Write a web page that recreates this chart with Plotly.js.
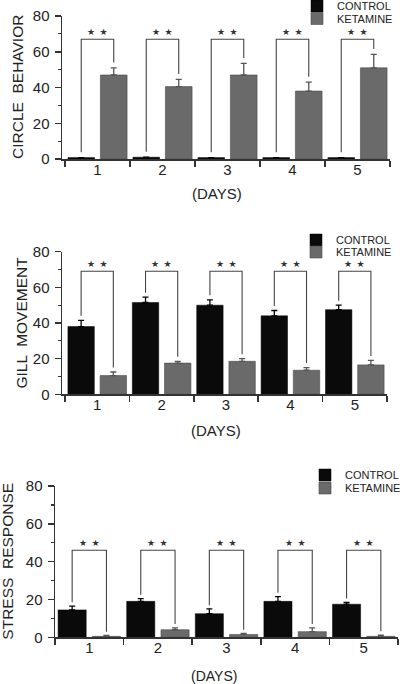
<!DOCTYPE html>
<html>
<head>
<meta charset="utf-8">
<script src="https://cdn.plot.ly/plotly-3.0.1.min.js"></script>
<style>
html,body{margin:0;padding:0;background:#fff;}
#chart{width:400px;height:684px;}
</style>
</head>
<body>
<div id="chart"></div>
<script>
// ---------- data ----------
const days = [1, 2, 3, 4, 5];
const dayLabels = ["1", "2", "3", "4", "5"];

const circleControl = [0.8, 1.0, 0.8, 0.8, 0.8];
const circleControlErr = [0, 0, 0, 0, 0];
const circleKetamine = [47, 40.5, 47, 38, 51];
const circleKetamineErr = [4, 4, 6.5, 5, 7.5];

const gillControl = [38, 51.5, 50, 44, 47.5];
const gillControlErr = [3.5, 3, 3, 3, 2.5];
const gillKetamine = [10.5, 17.5, 18.5, 13.5, 16.5];
const gillKetamineErr = [2, 1, 1.5, 1.5, 2.5];

const stressControl = [14.5, 19, 12.5, 19, 17.5];
const stressControlErr = [2, 1.5, 2.5, 2.5, 1];
const stressKetamine = [0.5, 4, 1.5, 3, 0.5];
const stressKetamineErr = [0.5, 1, 0.5, 2, 0.7];

const bracketLevels = [67, 69, 46];
const panelTitles = ["CIRCLE  BEHAVIOR", "GILL  MOVEMENT", "STRESS  RESPONSE"];
const xTitle = "(DAYS)";
const seriesNames = ["CONTROL", "KETAMINE"];
const sigLabel = "\u2605\u2002\u2605";
const yTicks = [0, 20, 40, 60, 80];

// ---------- style ----------
const W = 400, H = 684;
const FONT = "Liberation Sans, Arial, sans-serif";
const CONTROL_COLOR = "#0a0a0a";
const KET_COLOR = "#6a6a6a";
const AXIS_COLOR = "#333";
const BAR_W = 0.41;
const OFF_C = -0.455, OFF_K = 0.045;

const panels = [
  {ctrl: circleControl, ctrlErr: circleControlErr, ket: circleKetamine, ketErr: circleKetamineErr,
   xpx: [62, 390], ypx: [16, 159], xr0: 0.454, gap: 3, titleX: 17.5, daysX: 217, daysY: 193,
   legX: 336, legY: [6, 18.5]},
  {ctrl: gillControl, ctrlErr: gillControlErr, ket: gillKetamine, ketErr: gillKetamineErr,
   xpx: [62, 387], ypx: [251.7, 394.3], xr0: 0.453, gap: 2.5, titleX: 20.5, daysX: 216, daysY: 430,
   legX: 335, legY: [240, 252]},
  {ctrl: stressControl, ctrlErr: stressControlErr, ket: stressKetamine, ketErr: stressKetamineErr,
   xpx: [55, 398], ypx: [486, 637.3], xr0: 0.5, gap: 2, titleX: 8, daysX: 214, daysY: 675.5,
   legX: 344, legY: [475, 488]}
];

const traces = [];
const layout = {
  width: W, height: H,
  margin: {l: 0, r: 0, t: 0, b: 0, pad: 0, autoexpand: false},
  paper_bgcolor: "#fff", plot_bgcolor: "#fff",
  barmode: "overlay",
  font: {family: FONT, color: "#222"},
  showlegend: true,
  annotations: []
};

panels.forEach((p, i) => {
  const n = i + 1;
  const xa = n === 1 ? "x" : "x" + n;
  const ya = n === 1 ? "y" : "y" + n;
  const xkey = n === 1 ? "xaxis" : "xaxis" + n;
  const ykey = n === 1 ? "yaxis" : "yaxis" + n;
  const legC = "legend" + (i === 0 ? "" : (2 * i + 1));
  const legK = "legend" + (2 * i + 2);

  traces.push({
    type: "bar", name: seriesNames[0], x: days, y: p.ctrl, xaxis: xa, yaxis: ya,
    width: BAR_W, offset: OFF_C,
    marker: {color: CONTROL_COLOR, line: {color: "#000", width: 0.5}},
    error_y: {type: "data", array: p.ctrlErr, arrayminus: days.map(() => 0), symmetric: false,
              color: "#000", thickness: 1.3, width: 3},
    legend: legC, showlegend: true, hoverinfo: "skip"
  });
  traces.push({
    type: "bar", name: seriesNames[1], x: days, y: p.ket, xaxis: xa, yaxis: ya,
    width: BAR_W, offset: OFF_K,
    marker: {color: KET_COLOR, line: {color: "#4a4a4a", width: 0.6}},
    error_y: {type: "data", array: p.ketErr, arrayminus: days.map(() => 0), symmetric: false,
              color: "#555", thickness: 1.3, width: 3},
    legend: legK, showlegend: true, hoverinfo: "skip"
  });

  // significance brackets from the data
  const bx = [], by = [];
  const top = bracketLevels[i];
  days.forEach((d, j) => {
    const xc = d + OFF_C + BAR_W / 2;
    const xk = d + OFF_K + BAR_W / 2;
    bx.push(xc, xc, xk, xk, null);
    by.push(p.ctrl[j] + p.ctrlErr[j] + p.gap, top, top, p.ket[j] + p.ketErr[j] + p.gap, null);
    layout.annotations.push({
      xref: xa, yref: ya, x: (xc + xk) / 2, y: top, yanchor: "bottom", yshift: 0,
      text: sigLabel, showarrow: false,
      font: {family: "DejaVu Sans", size: 9, color: "#333"}
    });
  });
  traces.push({
    type: "scatter", mode: "lines", x: bx, y: by, xaxis: xa, yaxis: ya,
    line: {color: "#444", width: 1.1}, showlegend: false, hoverinfo: "skip", connectgaps: false
  });

  const xd = [p.xpx[0] / W, p.xpx[1] / W];
  const yd = [1 - p.ypx[1] / H, 1 - p.ypx[0] / H];

  layout[xkey] = {
    domain: xd, anchor: ya, range: [p.xr0, 5.5], type: "linear",
    tickmode: "array", tickvals: days, ticktext: dayLabels,
    ticks: "", ticklabelstandoff: -4,
    tickfont: {family: FONT, size: 15, color: "#222"},
    showline: true, linecolor: AXIS_COLOR, linewidth: 1.5,
    showgrid: false, zeroline: false, fixedrange: true, automargin: false,
    minor: {tickmode: "array", tickvals: [0.5, 1.5, 2.5, 3.5, 4.5, 5.5], ticks: "outside",
            ticklen: 6, tickwidth: 1.5, tickcolor: AXIS_COLOR, showgrid: false}
  };
  layout[ykey] = {
    domain: yd, anchor: xa, range: [0, 80],
    tickmode: "array", tickvals: yTicks,
    ticks: "outside", ticklen: 6, tickwidth: 1.5, tickcolor: AXIS_COLOR,
    ticklabelstandoff: 2,
    tickfont: {family: FONT, size: 15, color: "#222"},
    showline: true, linecolor: AXIS_COLOR, linewidth: 1.5,
    showgrid: false, zeroline: false, fixedrange: true, automargin: false,
    minor: {dtick: 10, tick0: 0, ticks: "outside", ticklen: 3, tickwidth: 1.2, tickcolor: AXIS_COLOR, showgrid: false}
  };

  layout.annotations.push({
    xref: "paper", yref: "paper", x: p.titleX / W, y: 1 - (p.ypx[0] + p.ypx[1]) / 2 / H,
    xanchor: "center", yanchor: "middle", textangle: -90, showarrow: false,
    text: panelTitles[i], font: {family: FONT, size: 15.5, color: "#222"}
  });
  layout.annotations.push({
    xref: "paper", yref: "paper", x: p.daysX / W, y: 1 - p.daysY / H,
    xanchor: "center", yanchor: "middle", showarrow: false,
    text: xTitle, font: {family: FONT, size: i === 2 ? 14 : 15, color: "#222"}
  });

  const legBase = {xanchor: "left", yanchor: "middle", bgcolor: "rgba(0,0,0,0)", borderwidth: 0,
                   font: {family: FONT, size: 11, color: "#222"}, itemclick: false, itemdoubleclick: false};
  layout[legC] = Object.assign({}, legBase, {x: (p.legX - 39) / W, y: 1 - p.legY[0] / H});
  layout[legK] = Object.assign({}, legBase, {x: (p.legX - 39) / W, y: 1 - p.legY[1] / H});
});

Plotly.newPlot("chart", traces, layout, {staticPlot: true, displayModeBar: false});
</script>
</body>
</html>
